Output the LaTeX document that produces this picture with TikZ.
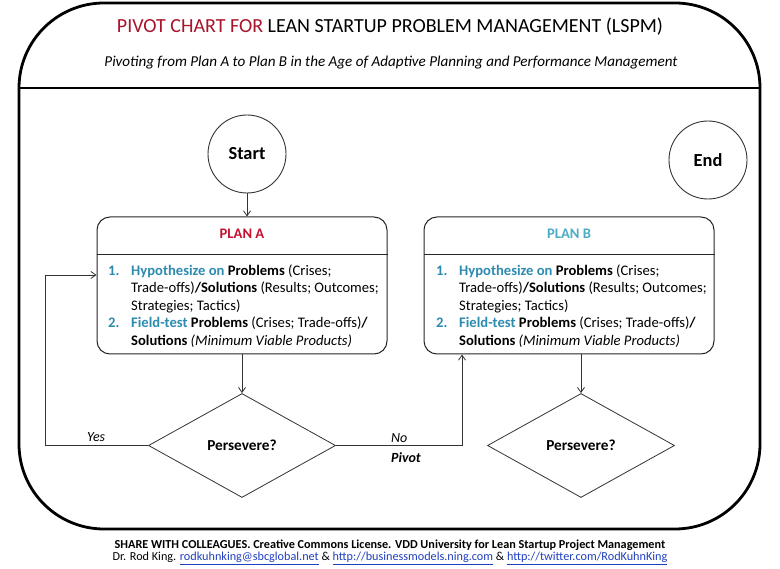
\documentclass[tikz,border=0pt]{standalone}
\usepackage{fontspec}
\setmainfont{Carlito}
\usetikzlibrary{shapes.geometric,arrows.meta}
\definecolor{titlered}{HTML}{A8142A}
\definecolor{planred}{HTML}{C8102E}
\definecolor{planblue}{HTML}{4BACC6}
\definecolor{hypblue}{HTML}{2E8BB0}
\definecolor{linkblue}{HTML}{1F3FBF}
\newcommand{\numbox}[1]{\makebox[23pt][l]{#1}}
\newcommand{\lnk}[1]{{\color{linkblue}\underline{#1}}}
\begin{document}
\begin{tikzpicture}[x=1pt,y=-1pt,
  flow/.style={draw=black!80,line width=0.8pt},
  arr/.style={flow,-{Straight Barb[length=5pt,width=7pt]}},
  term/.style={circle,draw=black!80,line width=0.9pt,minimum size=78pt,inner sep=0pt,font=\fontsize{18.4}{20}\selectfont\bfseries},
  planbox/.style={draw=black!85,line width=1pt,rounded corners=13pt,minimum width=290pt,minimum height=137pt,inner sep=0pt},
  dec/.style={diamond,draw=black!80,line width=0.8pt,aspect=1.8,minimum width=187pt,minimum height=104pt,inner sep=0pt,font=\fontsize{15.3}{17}\selectfont\bfseries},
  body/.style={anchor=north west,align=left,inner sep=0pt,font=\fontsize{14.6}{17.5}\selectfont},
  lbl/.style={inner sep=0pt,font=\fontsize{14}{16}\selectfont\itshape}]
\useasboundingbox (0,0) rectangle (780,569);
\fill[white] (0,0) rectangle (780,569);
% outer frame
\draw[line width=2.8pt,rounded corners=85pt] (19,3) rectangle (760,529);
\draw[line width=1.4pt] (19,88) -- (760,88);
\node[inner sep=0pt,font=\fontsize{20}{22}\selectfont] (title) at (390,27) {{\color{titlered}PIVOT CHART FOR} LEAN STARTUP PROBLEM MANAGEMENT (LSPM)};
\node[inner sep=0pt,font=\fontsize{15.1}{17}\selectfont\itshape] (sub) at (391,63) {Pivoting from Plan A to Plan B in the Age of Adaptive Planning and Performance Management};
% terminals
\node[term] (start) at (247,154) {Start};
\node[term] (end) at (708,160) {End};
% plan boxes
\node[planbox] (planA) at (242,285.5) {};
\node[planbox] (planB) at (569,285.5) {};
\draw[line width=1pt,draw=black!85] (planA.west |- 0,255) -- (planA.east |- 0,255);
\draw[line width=1pt,draw=black!85] (planB.west |- 0,255) -- (planB.east |- 0,255);
\node[inner sep=0pt,font=\fontsize{14.6}{16}\selectfont\bfseries,text=planred] (tA) at (242,234) {PLAN A};
\node[inner sep=0pt,font=\fontsize{14.6}{16}\selectfont\bfseries,text=planblue] (tB) at (569,234) {PLAN B};
\node[body] (bodyA) at (108,264.5) {\numbox{\color{hypblue}\bfseries 1.}{\color{hypblue}\bfseries Hypothesize on} \textbf{Problems} (Crises;\\
\numbox{}Trade-offs)\textbf{/Solutions} (Results; Outcomes;\\
\numbox{}Strategies; Tactics)\\
\numbox{\color{hypblue}\bfseries 2.}{\color{hypblue}\bfseries Field-test} \textbf{Problems} (Crises; Trade-offs)\textbf{/}\\
\numbox{}\textbf{Solutions} \textit{(Minimum Viable Products)}};
\node[body] (bodyB) at (436,264.5) {\numbox{\color{hypblue}\bfseries 1.}{\color{hypblue}\bfseries Hypothesize on} \textbf{Problems} (Crises;\\
\numbox{}Trade-offs)\textbf{/Solutions} (Results; Outcomes;\\
\numbox{}Strategies; Tactics)\\
\numbox{\color{hypblue}\bfseries 2.}{\color{hypblue}\bfseries Field-test} \textbf{Problems} (Crises; Trade-offs)\textbf{/}\\
\numbox{}\textbf{Solutions} \textit{(Minimum Viable Products)}};
% decisions
\node[dec] (decA) at (242,445.5) {Persevere?};
\node[dec] (decB) at (581,445.5) {Persevere?};
% connectors
\draw[arr] (start) -- (start |- planA.north);
\draw[arr] (planA.south) -- (decA.north);
\draw[arr] (decB.north |- planB.south) -- (decB.north);
\coordinate (yesc) at (45,445.5);
\coordinate (noc) at (462,445.5);
\draw[arr] (decA.west) -- (yesc) |- (planA.west |- 0,275);
\draw[arr] (decA.east) -- (noc) -- (noc |- planB.south);
\node[lbl,anchor=base west] (yes) at (87,442) {Yes};
\node[lbl,anchor=base west] (no) at (391,443) {No};
\node[lbl,anchor=base west,font=\fontsize{14}{16}\selectfont\bfseries\itshape] (pivot) at (391,463) {Pivot};
% footer
\node[inner sep=0pt,font=\fontsize{12.2}{13}\selectfont\bfseries] (f1) at (390,545.5) {SHARE WITH COLLEAGUES. Creative Commons License. VDD University for Lean Startup Project Management};
\node[inner sep=0pt,font=\fontsize{12.2}{13}\selectfont] (f2) at (390,558.5) {Dr. Rod King. \lnk{rodkuhnking@sbcglobal.net} \& \lnk{http://businessmodels.ning.com} \& \lnk{http://twitter.com/RodKuhnKing}};
\end{tikzpicture}
\end{document}
